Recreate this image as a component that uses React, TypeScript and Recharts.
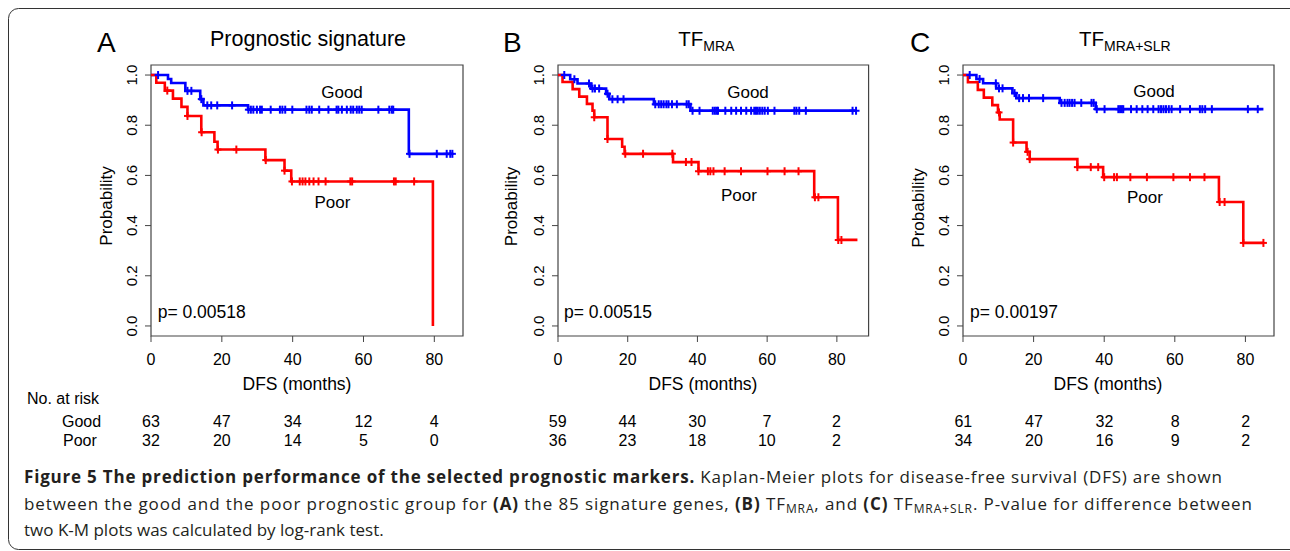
import React from 'react';
import { ComposedChart, Line, Scatter, XAxis, YAxis, ReferenceArea } from 'recharts';

// Kaplan-Meier step points: time (months) of each drop and survival after it
const goodATimes = [0, 4.8, 5.7, 9.7, 13.9, 14.8, 27.4, 72.8, 85.2];
const goodASurv = [1, 0.984, 0.968, 0.937, 0.904, 0.879, 0.862, 0.686, 0.686];
const goodACensor = [
  2.0, 10.3, 11.4, 14.2, 15.9, 17.0, 18.7, 22.9, 27.5, 28.2, 28.9, 29.9, 30.8, 31.3, 33.8, 36.4,
  37.1, 37.9, 39.9, 43.9, 44.7, 45.4, 47.5, 50.1, 52.4, 52.9, 53.9, 55.3, 56.4, 57.1, 58.1, 58.8,
  59.5, 64.2, 67.3, 68.0, 68.4, 73.0, 80.7, 83.5, 84.5, 85.1,
];
const poorATimes = [0, 1.5, 3.9, 6.2, 8.6, 10.3, 14.2, 17.9, 18.8, 32.3, 37.7, 39.6, 79.6];
const poorASurv = [1, 0.969, 0.938, 0.906, 0.873, 0.837, 0.772, 0.734, 0.703, 0.661, 0.619, 0.576, 0];
const poorACensor = [
  4.6, 10.3, 14.3, 18.9, 24.1, 32.4, 37.7, 39.8, 42.0, 42.8, 43.6, 44.7, 45.9, 47.3, 49.3, 56.3,
  56.8, 68.6, 69.1, 74.3,
];

const goodBTimes = [0, 3.5, 5.6, 9.5, 13.8, 14.7, 27.5, 38.0, 85.7];
const goodBSurv = [1, 0.983, 0.966, 0.946, 0.925, 0.904, 0.884, 0.858, 0.858];
const goodBCensor = [
  1.8, 4.7, 8.9, 9.9, 10.6, 11.8, 14.2, 15.6, 17.1, 18.8, 27.9, 28.9, 29.6, 30.3, 31.1, 31.7,
  32.7, 34.1, 36.9, 37.5, 38.6, 40.6, 44.4, 45.0, 45.5, 45.9, 48.0, 49.7, 51.1, 52.5, 54.0, 55.4,
  56.3, 56.8, 57.3, 57.9, 58.6, 59.3, 60.2, 62.1, 67.8, 68.4, 69.2, 71.1, 84.5, 85.5,
];
const poorBTimes = [0, 1.3, 4.2, 6.1, 8.3, 9.9, 10.4, 14.2, 18.4, 19.1, 33.0, 40.3, 73.5, 80.3, 85.9];
const poorBSurv = [1, 0.972, 0.944, 0.914, 0.885, 0.858, 0.832, 0.745, 0.714, 0.686, 0.653, 0.617, 0.513, 0.343, 0.343];
const poorBCensor = [
  10.4, 14.2, 19.3, 24.4, 32.8, 36.7, 38.3, 40.3, 43.0, 43.7, 44.6, 47.8, 52.5, 60.1, 65.0, 69.0,
  73.7, 74.7, 80.4, 81.3,
];

const goodCTimes = [0, 3.8, 5.7, 9.4, 14.0, 15.1, 27.4, 37.6, 85.1];
const goodCSurv = [1, 0.984, 0.967, 0.947, 0.928, 0.908, 0.889, 0.864, 0.864];
const goodCCensor = [
  1.9, 4.7, 9.3, 10.2, 11.2, 14.6, 15.9, 17.0, 18.7, 22.7, 27.9, 28.8, 29.6, 30.2, 30.9, 31.6,
  33.5, 36.4, 37.0, 37.9, 40.1, 44.0, 44.5, 45.0, 45.4, 47.6, 49.2, 50.8, 52.3, 53.9, 55.4, 56.1,
  56.8, 57.5, 58.3, 59.1, 61.5, 64.3, 67.1, 67.8, 68.6, 70.5, 80.7, 83.5,
];
const poorCTimes = [0, 1.4, 4.2, 5.9, 8.3, 9.9, 10.4, 14.2, 18.0, 18.9, 32.4, 39.7, 72.5, 79.4, 85.1];
const poorCSurv = [1, 0.971, 0.941, 0.910, 0.880, 0.851, 0.823, 0.731, 0.694, 0.665, 0.633, 0.593, 0.494, 0.331, 0.331];
const poorCCensor = [
  10.2, 14.2, 18.3, 18.9, 32.4, 36.2, 38.3, 40.0, 42.8, 43.6, 47.4, 52.1, 59.6, 64.3, 68.4, 72.7,
  74.1, 79.4, 85.1,
];

const xTicks = [0, 20, 40, 60, 80];
const yTicks = [0, 0.2, 0.4, 0.6, 0.8, 1.0];

const riskGoodA = [63, 47, 34, 12, 4];
const riskPoorA = [32, 20, 14, 5, 0];
const riskGoodB = [59, 44, 30, 7, 2];
const riskPoorB = [36, 23, 18, 10, 2];
const riskGoodC = [61, 47, 32, 8, 2];
const riskPoorC = [34, 20, 16, 9, 2];

const pValues = ['0.00518', '0.00515', '0.00197'];

const FONT = '"Liberation Sans", Arial, Helvetica, sans-serif';
const LEFT = 60;
const BOX_H = 271;
const AX_H = 40;
const PAD = 5;

type Pt = { t: number; s: number };

const toSteps = (times: number[], surv: number[]): Pt[] => times.map((t, i) => ({ t, s: surv[i] }));

const survAt = (times: number[], surv: number[], t: number) => {
  let s = surv[0];
  for (let i = 0; i < times.length; i++) if (times[i] <= t) s = surv[i];
  return s;
};

const toCensor = (times: number[], surv: number[], cens: number[]): Pt[] =>
  cens.map((t) => ({ t, s: survAt(times, surv, t) }));

const plusShape = (color: string) => (p: any) => (
  <g>
    <line x1={p.cx} x2={p.cx} y1={p.cy - 4} y2={p.cy + 4} stroke={color} strokeWidth={2} />
    <line x1={p.cx - 3.5} x2={p.cx + 3.5} y1={p.cy} y2={p.cy} stroke={color} strokeWidth={2} />
  </g>
);

const YTick = (props: any) => {
  const { y, payload } = props;
  const x = LEFT - 14;
  return (
    <text x={x} y={y} transform={`rotate(-90 ${x} ${y})`} textAnchor="middle" fontSize={15} fontFamily={FONT} fill="#000">
      {Number(payload.value).toFixed(1)}
    </text>
  );
};

interface PanelProps {
  boxLeft: number;
  boxTop: number;
  boxW: number;
  xMax: number;
  good: Pt[];
  poor: Pt[];
  goodCens: Pt[];
  poorCens: Pt[];
}

const KMPanel: React.FC<PanelProps> = ({ boxLeft, boxTop, boxW, xMax, good, poor, goodCens, poorCens }) => (
  <div style={{ position: 'absolute', left: boxLeft - LEFT, top: boxTop - PAD }}>
    <ComposedChart
      width={LEFT + boxW + PAD}
      height={PAD + BOX_H + AX_H}
      margin={{ top: PAD, right: PAD, bottom: 0, left: 0 }}
    >
      <XAxis
        type="number"
        dataKey="t"
        domain={[0, xMax]}
        ticks={xTicks}
        allowDataOverflow
        axisLine={false}
        tickSize={6}
        tickMargin={12}
        height={AX_H}
        stroke="#444"
        tick={{ fontSize: 16, fill: '#000', fontFamily: FONT }}
      />
      <YAxis
        type="number"
        dataKey="s"
        domain={[-0.04, 1.04]}
        ticks={yTicks}
        allowDataOverflow
        width={LEFT}
        axisLine={false}
        tickSize={6}
        stroke="#444"
        tick={<YTick />}
      />
      <ReferenceArea x1={0} x2={xMax} y1={-0.04} y2={1.04} fill="none" stroke="#444" strokeWidth={1.2} />
      <Line data={good} dataKey="s" type="stepAfter" stroke="#0000ff" strokeWidth={2.6} dot={false} isAnimationActive={false} />
      <Line data={poor} dataKey="s" type="stepAfter" stroke="#ff0000" strokeWidth={2.6} dot={false} isAnimationActive={false} />
      <Scatter data={goodCens} dataKey="s" shape={plusShape('#0000ff')} isAnimationActive={false} />
      <Scatter data={poorCens} dataKey="s" shape={plusShape('#ff0000')} isAnimationActive={false} />
    </ComposedChart>
  </div>
);

const panels = [
  { letter: 'A', boxLeft: 151, boxW: 312, xMax: 88.1, good: toSteps(goodATimes, goodASurv), poor: toSteps(poorATimes, poorASurv), goodCens: toCensor(goodATimes, goodASurv, goodACensor), poorCens: toCensor(poorATimes, poorASurv, poorACensor), riskGood: riskGoodA, riskPoor: riskPoorA },
  { letter: 'B', boxLeft: 557.7, boxW: 310.6, xMax: 89.1, good: toSteps(goodBTimes, goodBSurv), poor: toSteps(poorBTimes, poorBSurv), goodCens: toCensor(goodBTimes, goodBSurv, goodBCensor), poorCens: toCensor(poorBTimes, poorBSurv, poorBCensor), riskGood: riskGoodB, riskPoor: riskPoorB },
  { letter: 'C', boxLeft: 963.3, boxW: 311, xMax: 88.1, good: toSteps(goodCTimes, goodCSurv), poor: toSteps(poorCTimes, poorCSurv), goodCens: toCensor(goodCTimes, goodCSurv, goodCCensor), poorCens: toCensor(poorCTimes, poorCSurv, poorCCensor), riskGood: riskGoodC, riskPoor: riskPoorC },
];

const BOX_TOP = 64.8;

// label placements per panel (page coords)
const labelPos = [
  { letterX: 97, goodX: 342, goodY: 97.5, poorX: 332.5, poorY: 207.5, pX: 157.7, probX: 112, probY: 206, dfsX: 297 },
  { letterX: 503, goodX: 748, goodY: 97.5, poorX: 739, poorY: 201, pX: 564, probX: 516.5, probY: 206.5, dfsX: 703 },
  { letterX: 910, goodX: 1154, goodY: 96.5, poorX: 1145, poorY: 202.5, pX: 970, probX: 924, probY: 208, dfsX: 1108 },
];

const CAP = '"Open Sans", "Noto Sans", sans-serif';

export default function App() {
  return (
    <div style={{ position: 'absolute', left: 0, top: 0, width: 1290, height: 551, background: '#fff', overflow: 'hidden' }}>
      {panels.map((p) => (
        <KMPanel key={p.letter} boxLeft={p.boxLeft} boxTop={BOX_TOP} boxW={p.boxW} xMax={p.xMax} good={p.good} poor={p.poor} goodCens={p.goodCens} poorCens={p.poorCens} />
      ))}
      <svg width={1290} height={551} style={{ position: 'absolute', left: 0, top: 0, pointerEvents: 'none' }}>
        <rect x={8.5} y={8.5} width={1320} height={541} rx={10} fill="none" stroke="#333" strokeWidth={1} />
        <g fontFamily={FONT} fill="#000">
          {panels.map((p, i) => {
            const l = labelPos[i];
            const scale = p.boxW / p.xMax;
            return (
              <g key={p.letter}>
                <text x={l.letterX} y={52} fontSize={28}>{p.letter}</text>
                <text x={l.goodX} y={l.goodY} fontSize={17} textAnchor="middle">Good</text>
                <text x={l.poorX} y={l.poorY} fontSize={17} textAnchor="middle">Poor</text>
                <text x={l.pX} y={317.5} fontSize={17.5}>p= {pValues[i]}</text>
                <text x={l.probX} y={l.probY} fontSize={17} textAnchor="middle" transform={`rotate(-90 ${l.probX} ${l.probY})`}>Probability</text>
                <text x={l.dfsX} y={390} fontSize={17.5} textAnchor="middle">DFS (months)</text>
                {xTicks.map((t, k) => (
                  <g key={t}>
                    <text x={p.boxLeft + t * scale} y={427} fontSize={16} textAnchor="middle">{p.riskGood[k]}</text>
                    <text x={p.boxLeft + t * scale} y={446} fontSize={16} textAnchor="middle">{p.riskPoor[k]}</text>
                  </g>
                ))}
              </g>
            );
          })}
          <text x={308} y={46} fontSize={21.5} textAnchor="middle">Prognostic signature</text>
          <text x={678.3} y={46} fontSize={20.5}>TF<tspan fontSize={14} dy={5}>MRA</tspan></text>
          <text x={1079} y={46} fontSize={20.5}>TF<tspan fontSize={14} dy={5}>MRA+SLR</tspan></text>
          <text x={27} y={404} fontSize={16}>No. at risk</text>
          <text x={62} y={427} fontSize={16}>Good</text>
          <text x={63} y={446} fontSize={16}>Poor</text>
        </g>
        <g fontFamily={CAP} fill="#231f20" fontSize={17}>
          <text x={24} y={483} textLength={1198}>
            <tspan fontWeight="bold">Figure 5 The prediction performance of the selected prognostic markers.</tspan>
            {' '}Kaplan-Meier plots for disease-free survival (DFS) are shown
          </text>
          <text x={24} y={510} textLength={1228}>
            between the good and the poor prognostic group for <tspan fontWeight="bold">(A)</tspan> the 85 signature genes,{' '}
            <tspan fontWeight="bold">(B)</tspan> TF<tspan fontSize={12} dy={3}>MRA</tspan><tspan dy={-3}>, and </tspan>
            <tspan fontWeight="bold">(C)</tspan> TF<tspan fontSize={12} dy={3}>MRA+SLR</tspan><tspan dy={-3}>. P-value for difference between</tspan>
          </text>
          <text x={24} y={536}>two K-M plots was calculated by log-rank test.</text>
        </g>
      </svg>
    </div>
  );
}
